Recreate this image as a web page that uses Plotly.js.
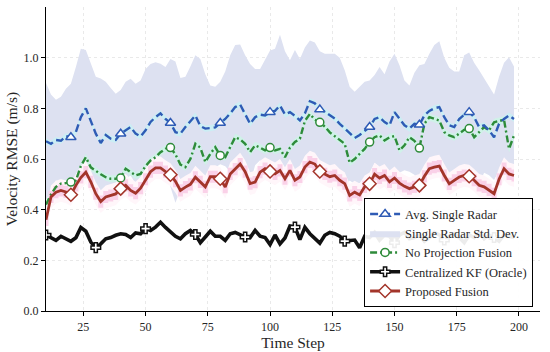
<!DOCTYPE html>
<html><head><meta charset="utf-8">
<script src="https://cdn.plot.ly/plotly-3.0.1.min.js"></script>
<style>html,body{margin:0;padding:0;background:#fff}#chart{width:550px;height:352px}</style>
</head><body><div id="chart"></div>
<script>
// Time steps 10..198, every 2 steps
const stepStart = 10, stepEvery = 2;

const avgSingle = [
0.670,0.660,0.675,0.672,0.690,0.686,0.706,0.765,0.800,0.750,
0.700,0.663,0.695,0.680,0.675,0.700,0.713,0.726,0.700,0.689,
0.713,0.746,0.765,0.780,0.758,0.742,0.706,0.700,0.726,0.750,
0.772,0.730,0.720,0.722,0.725,0.742,0.758,0.780,0.805,0.815,
0.780,0.739,0.765,0.775,0.772,0.785,0.790,0.811,0.776,0.785,
0.770,0.752,0.780,0.828,0.820,0.795,0.787,0.775,0.760,0.739,
0.720,0.700,0.683,0.695,0.710,0.726,0.758,0.765,0.746,0.733,
0.785,0.758,0.733,0.720,0.739,0.735,0.772,0.790,0.800,0.805,
0.765,0.733,0.726,0.758,0.775,0.785,0.765,0.726,0.733,0.713,
0.686,0.739,0.758,0.772,0.758];

const singleStd = [
0.230,0.195,0.159,0.174,0.187,0.211,0.257,0.270,0.230,0.225,
0.225,0.255,0.210,0.200,0.183,0.172,0.192,0.191,0.197,0.221,
0.242,0.229,0.217,0.196,0.205,0.253,0.279,0.220,0.199,0.215,
0.238,0.265,0.215,0.168,0.160,0.163,0.187,0.230,0.245,0.237,
0.230,0.236,0.190,0.180,0.218,0.243,0.245,0.279,0.249,0.205,
0.260,0.243,0.260,0.240,0.240,0.230,0.228,0.240,0.255,0.261,
0.230,0.185,0.182,0.190,0.195,0.184,0.174,0.198,0.189,0.252,
0.230,0.212,0.177,0.170,0.201,0.235,0.203,0.225,0.250,0.260,
0.235,0.227,0.219,0.187,0.235,0.235,0.215,0.224,0.187,0.177,
0.169,0.186,0.222,0.230,0.207];

const noProjection = [
0.420,0.460,0.490,0.503,0.505,0.509,0.515,0.572,0.607,0.567,
0.552,0.540,0.528,0.522,0.522,0.525,0.562,0.550,0.535,0.541,
0.572,0.594,0.607,0.627,0.640,0.645,0.618,0.578,0.568,0.600,
0.660,0.645,0.588,0.620,0.647,0.614,0.607,0.647,0.686,0.677,
0.660,0.627,0.654,0.645,0.634,0.645,0.634,0.640,0.607,0.645,
0.667,0.680,0.750,0.778,0.755,0.745,0.728,0.705,0.690,0.672,
0.660,0.585,0.600,0.620,0.640,0.667,0.686,0.693,0.673,0.686,
0.690,0.634,0.654,0.686,0.672,0.643,0.739,0.765,0.760,0.752,
0.706,0.693,0.686,0.700,0.715,0.720,0.686,0.706,0.726,0.713,
0.745,0.750,0.755,0.640,0.693];

const centralizedKF = [
0.300,0.290,0.279,0.295,0.286,0.275,0.289,0.330,0.315,0.272,
0.250,0.265,0.285,0.290,0.299,0.305,0.302,0.290,0.308,0.305,
0.325,0.318,0.331,0.350,0.330,0.312,0.295,0.285,0.305,0.318,
0.302,0.270,0.290,0.315,0.295,0.295,0.279,0.305,0.310,0.300,
0.292,0.290,0.318,0.295,0.290,0.262,0.300,0.265,0.288,0.335,
0.331,0.282,0.330,0.305,0.286,0.268,0.299,0.310,0.305,0.295,
0.276,0.279,0.280,0.250,0.295,0.290,0.310,0.280,0.300,0.295,
0.270,0.300,0.310,0.285,0.290,0.300,0.275,0.290,0.310,0.300,
0.280,0.295,0.305,0.290,0.270,0.300,0.290,0.310,0.285,0.300,
0.290,0.275,0.300,0.295,0.290];

const proposed = [
0.360,0.450,0.469,0.476,0.470,0.459,0.496,0.527,0.548,0.510,
0.463,0.432,0.450,0.456,0.462,0.483,0.496,0.476,0.465,0.485,
0.520,0.550,0.565,0.565,0.550,0.538,0.512,0.476,0.489,0.500,
0.528,0.510,0.490,0.530,0.530,0.522,0.489,0.541,0.560,0.580,
0.550,0.503,0.509,0.548,0.562,0.551,0.541,0.555,0.522,0.555,
0.516,0.529,0.568,0.588,0.580,0.551,0.541,0.530,0.535,0.516,
0.503,0.456,0.469,0.458,0.490,0.502,0.540,0.525,0.535,0.510,
0.525,0.505,0.492,0.483,0.490,0.496,0.532,0.562,0.568,0.572,
0.535,0.502,0.516,0.529,0.535,0.532,0.516,0.496,0.490,0.478,
0.463,0.520,0.562,0.541,0.535];

const steps = avgSingle.map((_, i) => stepStart + stepEvery * i);
const xTicks = [25, 50, 75, 100, 125, 150, 175, 200];
const yTicks = [0.0, 0.2, 0.4, 0.6, 0.8, 1.0];

const FONT = 'Liberation Serif, "Times New Roman", serif';

function markIdx(first, every) {
  return steps.map((s, i) => (s >= first && (s - first) % every === 0) ? i : -1).filter(i => i >= 0);
}
function bandTraces(ys, w, color, shape) {
  return [
    {x: steps, y: ys.map(v => v - w), mode: 'lines', line: {width: 0, shape: shape || 'linear'}, showlegend: false, hoverinfo: 'skip'},
    {x: steps, y: ys.map(v => v + w), mode: 'lines', line: {width: 0, shape: shape || 'linear'}, fill: 'tonexty', fillcolor: color, showlegend: false, hoverinfo: 'skip'}
  ];
}
function lineTrace(ys, name, rank, color, width, dash, symbol, msize, first, every) {
  return {
    x: steps, y: ys, name: name, legendrank: rank, mode: 'lines+markers',
    line: {color: color, width: width, dash: dash},
    marker: {symbol: symbol, size: msize, color: '#ffffff', line: {color: color, width: 1.5}},
    selectedpoints: markIdx(first, every),
    selected: {marker: {opacity: 1}},
    unselected: {marker: {opacity: 0}},
    hoverinfo: 'skip'
  };
}

const traces = [];
// std band of single radar
traces.push({x: steps, y: avgSingle.map((m, i) => m - singleStd[i]), mode: 'lines', line: {width: 0}, showlegend: false, hoverinfo: 'skip'});
traces.push({x: steps, y: avgSingle.map((m, i) => m + singleStd[i]), mode: 'lines', line: {width: 0}, fill: 'tonexty', fillcolor: '#dde1f1', name: 'Single Radar Std. Dev.', legendrank: 2, hoverinfo: 'skip'});
// soft glows
traces.push(...bandTraces(avgSingle, 0.012, 'rgba(200,240,245,0.85)'));
traces.push(...bandTraces(noProjection, 0.014, 'rgba(205,245,230,0.85)'));
traces.push(...bandTraces(proposed, 0.045, 'rgba(255,246,250,1)'));
traces.push(...bandTraces(proposed, 0.024, 'rgba(250,205,230,0.9)', 'hvh'));
// lines
traces.push(lineTrace(centralizedKF, 'Centralized KF (Oracle)', 4, '#111111', 3.6, 'solid', 'cross', 8, 10, 20));
traces.push(lineTrace(noProjection, 'No Projection Fusion', 3, '#2e8b3a', 2.4, '7px,3px,2px,3px', 'circle', 8, 20, 20));
traces.push(lineTrace(avgSingle, 'Avg. Single Radar', 1, '#2f5bb5', 2.4, '8px,4px', 'triangle-up', 9, 20, 20));
traces.push(lineTrace(proposed, 'Proposed Fusion', 5, '#a3352a', 2.8, 'solid', 'diamond', 10, 20, 20));

const layout = {
  width: 550, height: 352,
  margin: {l: 46, r: 10, t: 7, b: 41},
  paper_bgcolor: '#ffffff', plot_bgcolor: '#ffffff',
  font: {family: FONT, size: 12, color: '#262626'},
  showlegend: true,
  legend: {
    x: 0.986, y: 0.012, xanchor: 'right', yanchor: 'bottom',
    bgcolor: 'rgba(255,255,255,0.92)', bordercolor: '#000000', borderwidth: 1,
    font: {family: FONT, size: 12.5, color: '#262626'},
    itemwidth: 30, traceorder: 'normal'
  },
  xaxis: {
    range: [10, 208.45], tickvals: xTicks, ticktext: xTicks.map(String),
    showline: true, linecolor: '#000', linewidth: 1.2, mirror: false,
    ticks: 'outside', ticklen: 4, tickwidth: 1, tickcolor: '#000',
    showgrid: true, gridcolor: '#e4e4e4', gridwidth: 0.8, griddash: 'dot',
    zeroline: false, tickfont: {family: FONT, size: 12, color: '#262626'},
    title: {text: 'Time Step', font: {family: FONT, size: 15.5, color: '#262626'}, standoff: 2}
  },
  yaxis: {
    range: [0, 1.2], tickvals: yTicks, ticktext: yTicks.map(v => v.toFixed(1)),
    showline: true, linecolor: '#000', linewidth: 1.2, mirror: false,
    ticks: 'outside', ticklen: 4, tickwidth: 1, tickcolor: '#000',
    showgrid: true, gridcolor: '#e4e4e4', gridwidth: 0.8, griddash: 'dot',
    zeroline: false, tickfont: {family: FONT, size: 12, color: '#262626'},
    title: {text: 'Velocity RMSE (m/s)', font: {family: FONT, size: 15.5, color: '#262626'}, standoff: 2}
  }
};

Plotly.newPlot('chart', traces, layout, {staticPlot: true, displayModeBar: false});
</script>
</body></html>
